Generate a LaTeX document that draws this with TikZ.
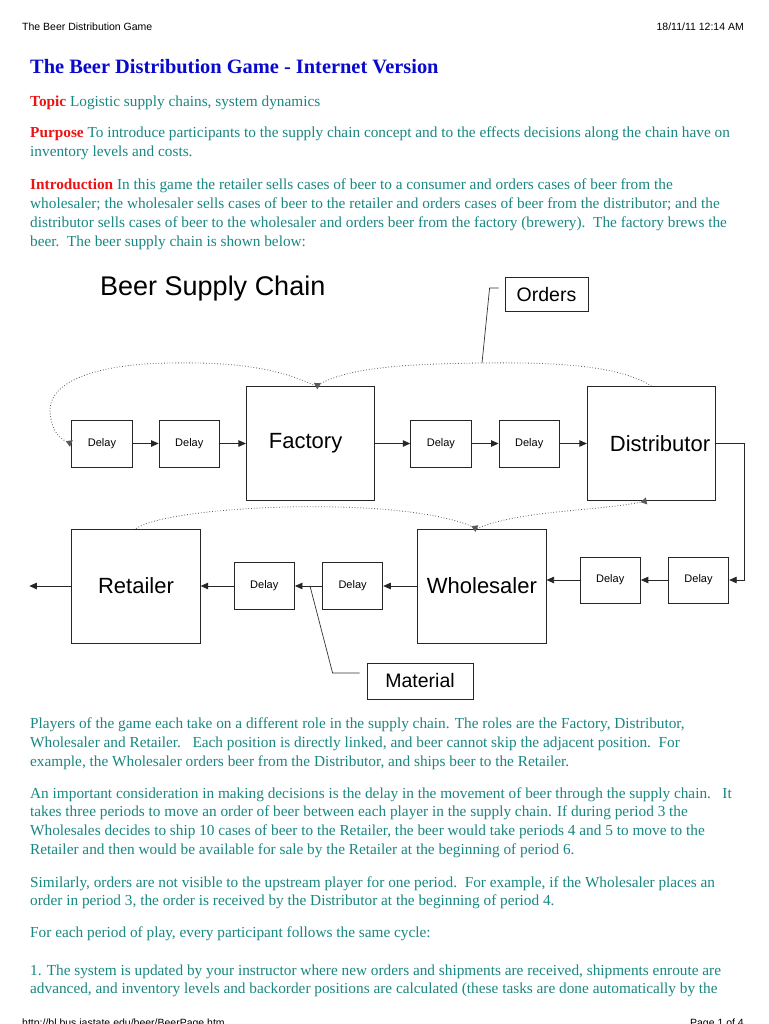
\documentclass[tikz,border=0pt]{standalone}
\usepackage{fontspec}
\setmainfont{Liberation Serif}
\setsansfont{Liberation Sans}
\usetikzlibrary{arrows.meta,positioning}
\definecolor{tealtext}{RGB}{25,135,130}
\definecolor{redlabel}{RGB}{235,20,20}
\definecolor{bluetitle}{RGB}{10,10,205}
\newcommand{\lbl}[1]{\textcolor{redlabel}{\textbf{#1}}}

\begin{document}
\begin{tikzpicture}[
    x=1pt, y=-1pt,
    >={Triangle[length=7.5pt,width=6.5pt]},
    delaybox/.style={draw=black!85, line width=0.8pt, minimum width=60.5pt, minimum height=47pt, inner sep=0pt, font=\sffamily\fontsize{11}{13}\selectfont},
    playerbox/.style={draw=black!85, line width=0.8pt, minimum width=128.5pt, minimum height=114pt, inner sep=0pt, font=\sffamily\fontsize{22}{26}\selectfont},
    tagbox/.style={draw=black!85, line width=0.8pt, inner sep=0pt, font=\sffamily\fontsize{19.5}{23}\selectfont},
    para/.style={anchor=base west, inner sep=0pt, align=left, text=tealtext, font=\fontsize{15.3}{18.9}\selectfont},
    pagetag/.style={inner sep=0pt, font=\sffamily\fontsize{10.5}{12}\selectfont},
    flow/.style={->, line width=0.8pt, black!85},
    orderflow/.style={-{Triangle[reversed,length=6pt,width=7pt]}, dotted, line width=0.8pt, black!65},
    leader/.style={line width=0.7pt, black!80}
  ]
  \fill[white] (0,0) rectangle (768,1024);
  \useasboundingbox (0,0) rectangle (768,1024);

  % Kopf
  \node[pagetag, anchor=base west] (hdr) at (22,31) {The Beer Distribution Game};
  \node[pagetag, anchor=base east] (stamp) at (744,31) {18/11/11 12:14 AM};
  \node[anchor=base west, inner sep=0pt, text=bluetitle, font=\bfseries\fontsize{20.4}{24}\selectfont] (title) at (30,74) {The Beer Distribution Game - Internet Version};

  % Einleitung (Anker: Grundlinie der letzten Zeile)
  \node[para] (topic) at (30,107) {\lbl{Topic} Logistic supply chains, system dynamics};
  \node[para] (purpose) at (30,156.9) {\lbl{Purpose} To introduce participants to the supply chain concept and to the effects decisions along the chain have on\\
    inventory levels and costs.};
  \node[para] (intro) at (30,246.7) {\lbl{Introduction} In this game the retailer sells cases of beer to a consumer and orders cases of beer from the\\
    wholesaler; the wholesaler sells cases of beer to the retailer and orders cases of beer from the distributor; and the\\
    distributor sells cases of beer to the wholesaler and orders beer from the factory (brewery).\ \ The factory brews the\\
    beer.\ \ The beer supply chain is shown below:};

  % Lieferkette
  \node[anchor=base west, inner sep=0pt, font=\sffamily\fontsize{27}{30}\selectfont] (chain) at (100,295) {Beer Supply Chain};

  \node[delaybox] (dly1) at (102,443.5) {Delay};
  \node[delaybox, right=26pt of dly1] (dly2) {Delay};
  \node[playerbox, right=26pt of dly2] (fac) {Factory\hspace*{10pt}};
  \node[delaybox, right=35pt of fac] (dly3) {Delay};
  \node[delaybox, right=27pt of dly3] (dly4) {Delay};
  \node[playerbox, right=27pt of dly4] (dist) {\hspace*{17pt}Distributor};

  \node[playerbox] (ret) at (136,586) {Retailer};
  \node[delaybox, right=33pt of ret] (dly5) {Delay};
  \node[delaybox, right=27pt of dly5] (dly6) {Delay};
  \node[playerbox, right=34pt of dly6] (whs) {Wholesaler};
  \node[delaybox, minimum height=46pt, right=33pt of whs, yshift=6pt] (dly7) {Delay};
  \node[delaybox, minimum height=46pt, right=27pt of dly7] (dly8) {Delay};

  \node[tagbox, minimum width=83pt, minimum height=34pt] (ord) at (546.5,294.5) {Orders};
  \node[tagbox, minimum width=106pt, minimum height=36pt] (mat) at (420,681) {Material};

  % Bier
  \draw[flow] (dly1) -- (dly2);
  \draw[flow] (dly2) -- (fac);
  \draw[flow] (fac) -- (dly3);
  \draw[flow] (dly3) -- (dly4);
  \draw[flow] (dly4) -- (dist);
  \draw[flow] (dist.east) -- ++(28,0) |- (dly8.east);
  \draw[flow] (dly8) -- (dly7);
  \draw[flow] (dly7.west) -- (dly7.west -| whs.east);
  \draw[flow] (whs) -- (dly6);
  \draw[flow] (dly6) -- (dly5);
  \draw[flow] (dly5) -- (ret);
  \coordinate[left=42pt of ret.west] (market);
  \draw[flow] (ret.west) -- (market);

  % Bestellungen
  \coordinate (ordtip) at (482,363);
  \draw[orderflow] ([xshift=5pt]fac.north) .. controls (275,366) and (225,362) .. (170,363)
    .. controls (95,364) and (48,382) .. (50,412) .. controls (51,428) and (58,438) .. (dly1.west);
  \draw[orderflow] (dist.north) .. controls (620,366) and (560,362) .. (ordtip)
    .. controls (400,364) and (350,368) .. ([xshift=5pt]fac.north);
  \draw[orderflow] ([xshift=-5pt]whs.north) .. controls (520,510) and (600,511) .. ([xshift=-5pt]dist.south);
  \draw[orderflow] (ret.north) .. controls (170,505) and (400,495) .. ([xshift=-5pt]whs.north);

  \coordinate (mattip) at (310,586);
  \draw[leader] ([xshift=-6pt,yshift=6.5pt]ord.west) -- ++(-9,0) -- (ordtip);
  \draw[leader] ([xshift=-7pt,yshift=8pt]mat.west) -- ++(-27,0) -- (mattip);

  % Spielregeln
  \node[para] (players) at (30,766.5) {Players of the game each take on a different role in the supply chain. The roles are the Factory, Distributor,\\
    Wholesaler and Retailer.\ \ \ Each position is directly linked, and beer cannot skip the adjacent position.\ \ For\\
    example, the Wholesaler orders beer from the Distributor, and ships beer to the Retailer.};
  \node[para] (delays) at (30,854.7) {An important consideration in making decisions is the delay in the movement of beer through the supply chain.\ \ \ It\\
    takes three periods to move an order of beer between each player in the supply chain. If during period 3 the\\
    Wholesales decides to ship 10 cases of beer to the Retailer, the beer would take periods 4 and 5 to move to the\\
    Retailer and then would be available for sale by the Retailer at the beginning of period 6.};
  \node[para] (visible) at (30,905.9) {Similarly, orders are not visible to the upstream player for one period.\ \ For example, if the Wholesaler places an\\
    order in period 3, the order is received by the Distributor at the beginning of period 4.};
  \node[para] (cycle) at (30,937) {For each period of play, every participant follows the same cycle:};
  \node[para] (step1) at (30,993.9) {1. The system is updated by your instructor where new orders and shipments are received, shipments enroute are\\
    advanced, and inventory levels and backorder positions are calculated (these tasks are done automatically by the};

  % Fuss
  \node[pagetag, anchor=base west] (url) at (22,1026) {http://bl.bus.iastate.edu/beer/BeerPage.htm};
  \node[pagetag, anchor=base east] (pageno) at (744,1026) {Page 1 of 4};
\end{tikzpicture}
\end{document}
